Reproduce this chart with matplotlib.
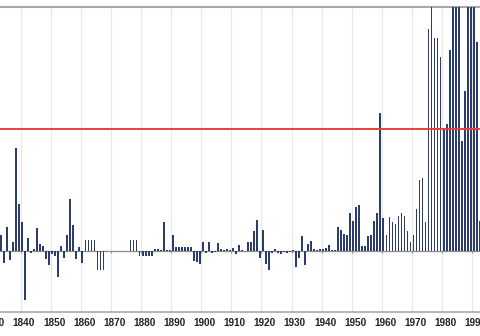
import numpy as np
import matplotlib.pyplot as plt

years = np.arange(1833, 1993)
values = [
    0.26, -0.20, 0.40, -0.15, 0.15, 1.69, 0.77,                   # 1833-1839
    0.47, -0.81, 0.22, -0.03, 0.03, 0.38, 0.12, 0.09, -0.13, -0.23,  # 1840s
    -0.05, -0.09, -0.43, 0.09, -0.11, 0.26, 0.85, 0.42, -0.13, 0.07,  # 1850s
    -0.19, 0.18, 0.18, 0.18, 0.18, -0.31, -0.31, -0.31, 0.0, 0.0,     # 1860s
    0.0, 0.0, 0.0, 0.0, 0.0, 0.0, 0.18, 0.18, 0.18, -0.09,            # 1870s
    -0.09, -0.09, -0.09, -0.09, 0.03, 0.03, 0.02, 0.48, 0.02, 0.01,   # 1880s
    0.27, 0.07, 0.07, 0.07, 0.07, 0.07, 0.07, -0.17, -0.18, -0.21,    # 1890s
    0.15, -0.04, 0.15, -0.04, -0.02, 0.13, 0.04, 0.01, 0.04, 0.01,    # 1900s
    0.05, -0.05, 0.10, 0.02, 0.0, 0.15, 0.14, 0.33, 0.51, -0.12,      # 1910s
    0.34, -0.22, -0.31, -0.03, 0.03, -0.04, -0.05, -0.02, -0.03, -0.01,  # 1920s
    0.01, -0.27, -0.12, 0.24, -0.23, 0.11, 0.16, 0.04, 0.02, 0.03,    # 1930s
    0.04, 0.05, 0.10, 0.02, 0.01, 0.39, 0.35, 0.28, 0.26, 0.62,       # 1940s
    0.50, 0.72, 0.76, 0.08, 0.08, 0.24, 0.27, 0.49, 0.63, 2.26,       # 1950s
    0.54, 0.27, 0.56, 0.48, 0.44, 0.58, 0.63, 0.58, 0.32, 0.14,       # 1960s
    0.27, 0.69, 1.16, 1.19, 0.48, 3.64, 4.60, 3.50, 3.49, 3.18,       # 1970s
    2.00, 2.08, 3.29, 4.40, 4.80, 4.30, 1.80, 2.62, 4.50, 4.90,       # 1980s
    4.40, 3.42, 0.50,                                                 # 1990-1992
]
threshold = 2.0
decades = np.arange(1830, 2000, 10)

fig = plt.figure(figsize=(4.8, 3.36), dpi=100)
# axes is wider than the canvas so the outer labels get cut at the edges
x0, x1 = 1825, 2000
px_per_year = 3.01
left_px = 22.2 + (x0 - 1840) * px_per_year
width_px = (x1 - x0) * px_per_year
ax = fig.add_axes([left_px / 480, 24 / 336, width_px / 480, 305 / 336])

ax.bar(years, values, width=0.6, color='#2c3c6c', zorder=3)
ax.axhline(0, color='#8c8c8c', lw=0.9, zorder=2)
ax.vlines(decades - 0.5, -0.04, 0, color='#8c8c8c', lw=0.8, zorder=2)
ax.axhline(threshold, color='#e8403a', lw=1.4, zorder=4)

ax.set_xlim(x0, x1)
ax.set_ylim(-1, 4)
ax.set_xticks(decades + 0.6)
ax.set_xticklabels([str(d) for d in decades], fontsize=7.2, color='#222222',
                   fontfamily='Liberation Sans', fontweight='bold')
ax.set_xticks(decades - 0.5, minor=True)
ax.tick_params(axis='x', which='both', length=0, pad=4.5)
ax.grid(True, which='minor', axis='x', color='#e8e8e8', lw=0.9, zorder=0)
ax.set_yticks([])

for side in ['left', 'right']:
    ax.spines[side].set_visible(False)
ax.spines['top'].set_color('#a8a8a8')
ax.spines['top'].set_linewidth(1.5)
ax.spines['bottom'].set_color('#a8a8a8')
ax.spines['bottom'].set_linewidth(1.2)

fig.savefig('out.png', dpi=100)
